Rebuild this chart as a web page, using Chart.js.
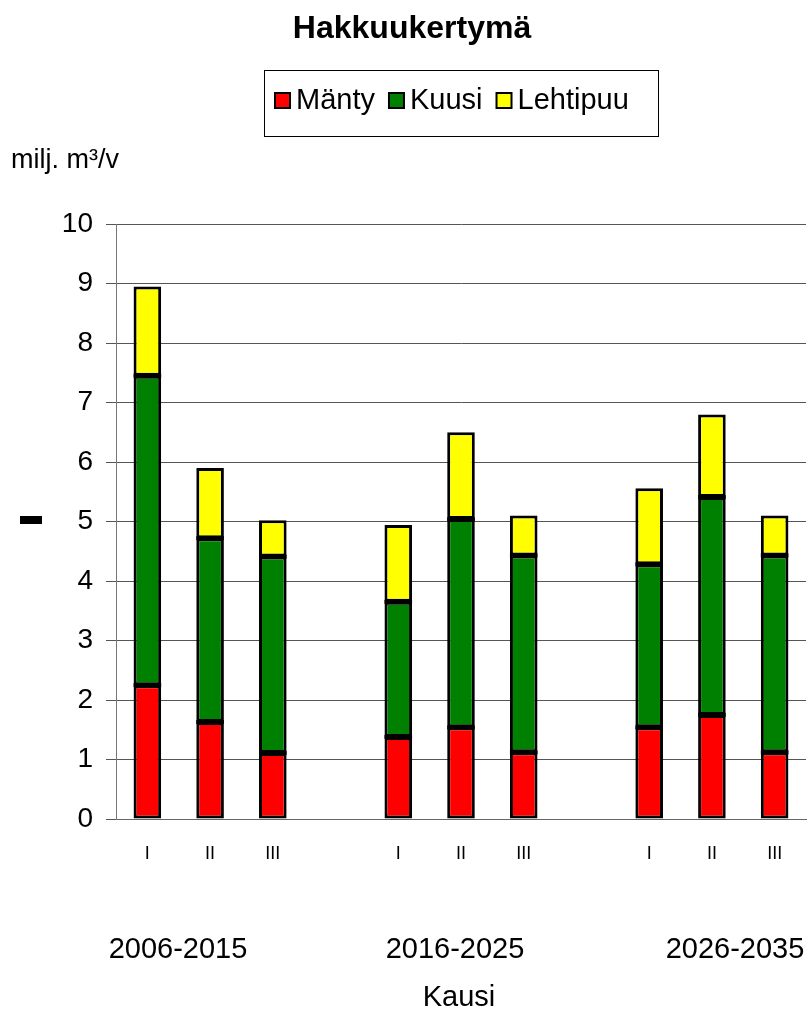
<!DOCTYPE html>
<html>
<head>
<meta charset="utf-8">
<script src="https://cdn.jsdelivr.net/npm/chart.js@4/dist/chart.umd.min.js"></script>
<style>
  html, body { margin:0; padding:0; background:#fff; }
  #c { display:block; }
</style>
</head>
<body>
<canvas id="c" width="810" height="1013"></canvas>
<script>
// categories (blank slots are the gaps between periods)
const kaudet = ["I","II","III","","I","II","III","","I","II","III"];
const jaksot = ["2006-2015","2016-2025","2026-2035"];

// milj. m3/v, stacked from bottom
const manty    = [2.25, 1.63, 1.11, null, 1.38, 1.54, 1.12, null, 1.54, 1.75, 1.12];
const kuusi    = [5.20, 3.09, 3.30, null, 2.27, 3.50, 3.31, null, 2.74, 3.66, 3.31];
const lehtipuu = [1.50, 1.18, 0.61, null, 1.29, 1.46, 0.67, null, 1.28, 1.39, 0.67];

const sarjat = ["Mänty","Kuusi","Lehtipuu"];
const varit  = ["#ff0000","#008000","#ffff00"];

const yTicks = [0,1,2,3,4,5,6,7,8,9,10];

const FONT = "'Liberation Sans', Arial, sans-serif";

// even black divider between stacked segments (at each upper segment's base)
const valit = {
  id: "valit",
  afterDatasetsDraw(chart){
    const ctx = chart.ctx;
    ctx.save();
    ctx.fillStyle = "#000";
    [1, 2].forEach(di => {
      chart.getDatasetMeta(di).data.forEach((el, i) => {
        if (chart.data.datasets[di].data[i] == null) return;
        ctx.fillRect(el.x - el.width / 2, el.base - 2, el.width, 4);
      });
    });
    ctx.restore();
  }
};

const extras = {
  id: "extras",
  afterDraw(chart){
    const ctx = chart.ctx;
    ctx.save();
    ctx.fillStyle = "#000";

    // title
    ctx.font = "bold 32px " + FONT;
    ctx.textAlign = "center";
    ctx.textBaseline = "middle";
    ctx.fillText("Hakkuukertymä", 412, 29);

    // legend box
    ctx.strokeStyle = "#000";
    ctx.lineWidth = 1;
    ctx.strokeRect(264.5, 70.5, 394, 66);
    ctx.font = "29px " + FONT;
    ctx.textAlign = "left";
    let x = 275;
    sarjat.forEach((s, i) => {
      ctx.fillStyle = varit[i];
      ctx.fillRect(x, 93, 15, 15);
      ctx.lineWidth = 2;
      ctx.strokeStyle = "#000";
      ctx.strokeRect(x, 93, 15, 15);
      ctx.fillStyle = "#000";
      ctx.fillText(s, x + 21, 101);
      x += 21 + ctx.measureText(s).width + 14;
    });

    // unit label
    ctx.font = "27px " + FONT;
    ctx.textAlign = "left";
    ctx.fillText("milj. m³/v", 11, 161);

    // stray dash left of the axis
    ctx.fillRect(20, 516, 22, 8);

    // period labels + axis title
    ctx.font = "29px " + FONT;
    ctx.textAlign = "center";
    const px = [178, 455, 735];
    jaksot.forEach((j, i) => ctx.fillText(j, px[i], 950));
    ctx.fillText("Kausi", 459, 998);

    ctx.restore();
  }
};

new Chart(document.getElementById("c"), {
  type: "bar",
  data: {
    labels: kaudet,
    datasets: [
      { label: sarjat[0], data: manty,    backgroundColor: varit[0] },
      { label: sarjat[1], data: kuusi,    backgroundColor: varit[1] },
      { label: sarjat[2], data: lehtipuu, backgroundColor: varit[2] }
    ].map(d => ({ ...d, borderColor: "#000", borderWidth: 3, borderSkipped: false,
                  inflateAmount: 0, barPercentage: 0.44, categoryPercentage: 1 }))
  },
  options: {
    responsive: false,
    animation: false,
    devicePixelRatio: 1,
    layout: { padding: { top: 224, right: 4, left: 0, bottom: 0 } },
    plugins: { legend: { display: false }, title: { display: false }, tooltip: { enabled: false } },
    scales: {
      x: {
        stacked: true,
        grid: { display: false, drawTicks: false },
        border: { display: true, color: "#666", width: 1 },
        ticks: { color: "#000", font: { family: FONT, size: 18 }, padding: 24, maxRotation: 0, autoSkip: false },
        afterFit(scale){ scale.height = 194; }
      },
      y: {
        stacked: true,
        min: 0, max: 10,
        afterBuildTicks(scale){ scale.ticks = yTicks.map(v => ({ value: v })); },
        grid: { color: "#555", lineWidth: 1, tickLength: 10 },
        border: { color: "#777", width: 1 },
        ticks: { color: "#000", font: { family: FONT, size: 28 }, padding: 13 },
        afterFit(scale){ scale.width = 116; }
      }
    }
  },
  plugins: [valit, extras]
});
</script>
</body>
</html>
